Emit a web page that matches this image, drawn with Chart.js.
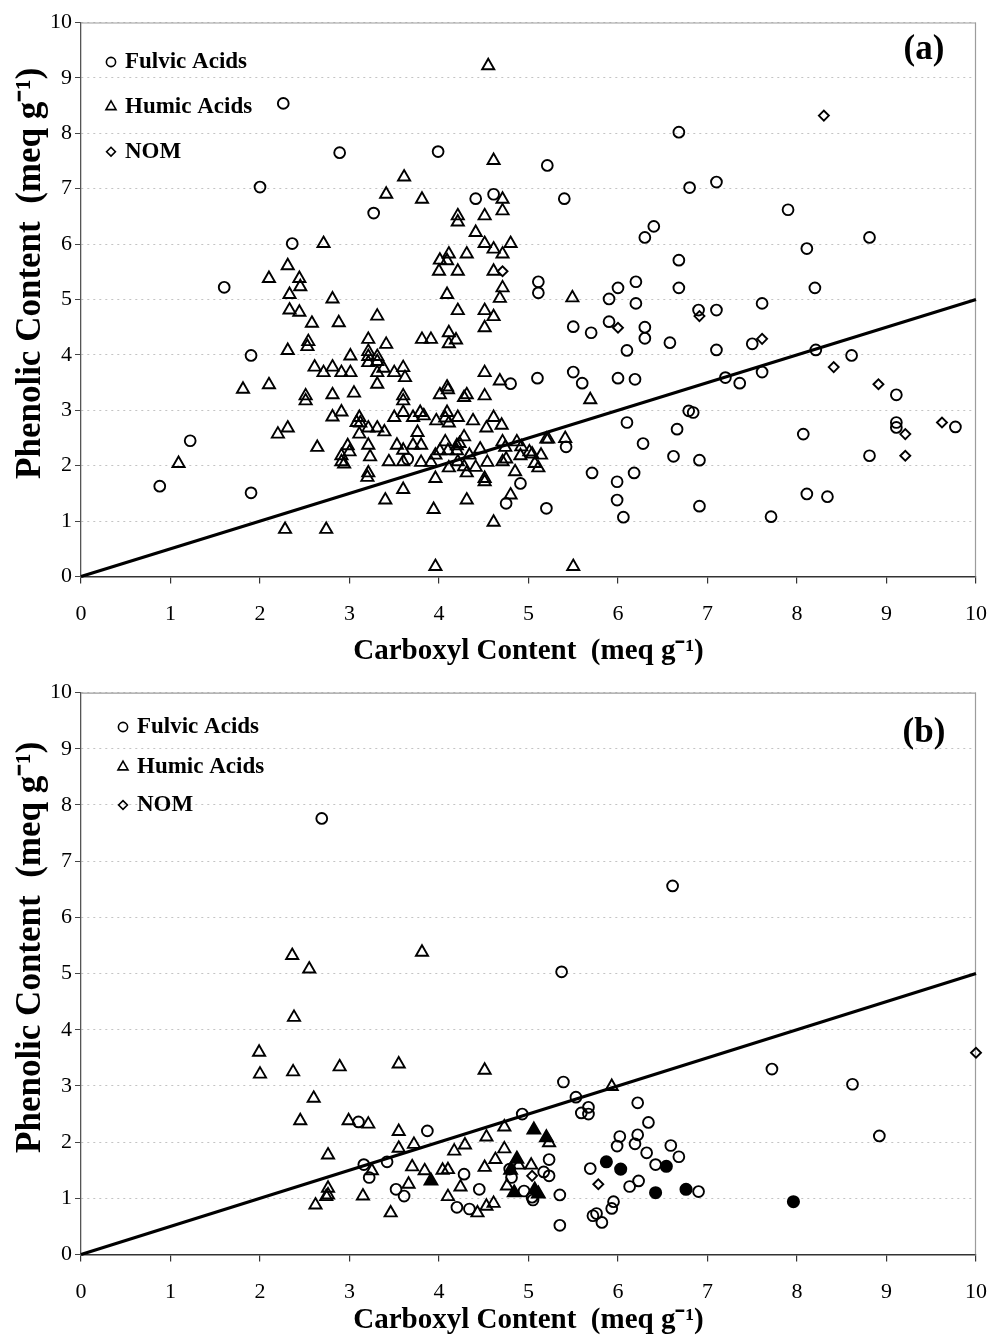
<!DOCTYPE html>
<html><head><meta charset="utf-8">
<script src="https://cdn.jsdelivr.net/npm/chart.js@4/dist/chart.umd.min.js"></script>
<style>
html,body{margin:0;padding:0;background:#fff;}
#wrap{position:relative;width:992px;height:1335px;overflow:hidden;background:#fff;}
canvas{position:absolute;left:0;}
</style></head><body>
<div id="wrap">
<canvas id="chartA" width="992" height="672" style="top:0px"></canvas>
<canvas id="chartB" width="992" height="663" style="top:672px"></canvas>
</div>
<script>
// ---------- axis / labels ----------
const xTickValues = [0,1,2,3,4,5,6,7,8,9,10];
const yTickValues = [0,1,2,3,4,5,6,7,8,9,10];
const seriesNames = ['Fulvic Acids','Humic Acids','NOM'];
const xAxisTitle = 'Carboxyl Content  (meq g\u207B\u00B9)';
const yAxisTitle = '      Phenolic Content  (meq g\u207B\u00B9)';
const panelLabels = ['(a)','(b)'];
// reference line phenolic = carboxyl / 2
const refLineX = [0,10];
const refLineY = [0,5];

// ---------- panel (a) ----------
const aFulvic = [[2.26,8.54],[2.89,7.65],[2.00,7.03],[3.27,6.56],[2.36,6.01],[1.60,5.22],[1.90,3.99],[1.22,2.45],[0.88,1.63],[1.90,1.51],
[3.99,7.67],[4.41,6.82],[4.61,6.90],[5.21,7.42],[5.40,6.82],[6.68,8.02],[6.30,6.12],[6.40,6.32],[6.68,5.71],[6.68,5.21],
[5.11,5.32],[5.11,5.12],[5.90,5.01],[6.00,5.21],[6.20,5.32],[6.20,4.93],
[5.50,4.51],[5.70,4.40],[5.90,4.60],[6.30,4.50],[6.30,4.30],[6.10,4.08],[6.58,4.22],
[4.80,3.48],[5.10,3.58],[5.50,3.69],[5.60,3.49],[6.00,3.58],[6.19,3.56],
[3.65,2.12],[5.42,2.34],[4.91,1.68],[4.75,1.32],[5.20,1.23],
[5.71,1.87],[5.99,1.71],[5.99,1.38],[6.06,1.07],[6.18,1.87],[6.28,2.40],[6.62,2.17],[6.66,2.66],[6.10,2.78],
[6.80,7.02],[7.10,7.12],[7.90,6.62],[8.81,6.12],[8.11,5.92],[8.20,5.21],[7.61,4.93],
[6.90,4.81],[7.10,4.81],[7.10,4.09],[7.50,4.20],[8.21,4.09],[8.61,3.99],[7.20,3.59],[7.36,3.49],[7.61,3.69],[9.11,3.28],
[6.79,2.99],[6.84,2.96],[9.11,2.78],[9.11,2.69],[9.77,2.70],[8.07,2.57],
[6.91,2.10],[8.81,2.18],[6.91,1.27],[8.11,1.49],[8.34,1.44],[7.71,1.08]];

const aHumic = [[3.41,6.90],[2.71,6.01],[2.31,5.61],[2.10,5.38],[2.44,5.38],[2.45,5.23],[2.33,5.09],[2.81,5.01],
[4.55,9.22],[4.61,7.51],[3.61,7.21],[3.81,6.81],[4.71,6.81],[4.71,6.60],[4.21,6.51],[4.21,6.40],[4.51,6.51],[4.41,6.21],[4.51,6.01],[4.61,5.91],[4.80,6.01],[4.71,5.82],[4.31,5.82],[4.11,5.82],[4.01,5.71],[4.09,5.70],[4.00,5.51],[4.21,5.51],[4.61,5.51],[4.71,5.21],[4.68,5.02],[4.09,5.09],[5.49,5.03],
[2.33,4.81],[2.44,4.77],[2.58,4.57],[2.88,4.58],[3.31,4.70],[3.21,4.28],[3.41,4.19],[2.54,4.24],[2.53,4.15],[2.31,4.08],[3.01,3.98],[3.21,4.06],[3.21,3.97],[3.31,3.97],[3.21,3.86],[3.31,3.88],[3.38,3.76],[3.31,3.68],[3.31,3.47],[2.61,3.78],[2.71,3.68],[2.81,3.78],[2.91,3.68],[3.01,3.68],[1.81,3.38],[2.10,3.46],[2.51,3.26],[2.51,3.17],[2.81,3.28],[3.05,3.31],[2.81,2.88],[2.91,2.97],[3.11,2.87],[3.08,2.78],[3.12,2.77],[3.21,2.68],[3.31,2.68],[3.39,2.61],[3.11,2.57],[2.31,2.68],[2.20,2.57],[2.64,2.33],[2.98,2.36],[3.00,2.25],[2.91,2.18],[2.91,2.07],[2.94,2.03],[3.21,2.37],[3.23,2.16],[3.44,2.07],[3.21,1.87],[3.20,1.79],[1.09,2.04],[3.40,1.38],[2.28,0.85],[2.74,0.85],
[4.21,4.80],[4.51,4.80],[4.61,4.69],[4.51,4.49],[4.11,4.40],[3.81,4.28],[3.91,4.28],[4.19,4.27],[4.11,4.20],
[3.50,3.68],[3.60,3.77],[3.62,3.59],[4.51,3.68],[4.68,3.53],[5.69,3.19],
[3.60,3.26],[3.60,3.17],[4.01,3.28],[4.09,3.42],[4.10,3.37],[4.28,3.23],[4.31,3.28],[4.51,3.26],
[3.50,2.87],[3.60,2.96],[3.71,2.87],[3.79,2.96],[3.83,2.90],[3.97,2.81],[4.09,2.96],[4.07,2.86],[4.11,2.77],[4.21,2.87],[4.38,2.81],[4.61,2.87],[4.53,2.68],[4.70,2.73],[3.76,2.60],
[3.53,2.37],[3.60,2.28],[3.71,2.37],[3.80,2.37],[3.60,2.07],[3.80,2.06],[3.91,2.06],[3.96,2.19],[4.01,2.27],[4.07,2.43],[4.10,2.27],[4.20,2.36],[4.20,2.27],[4.23,2.40],[4.28,2.52],[4.34,2.19],[4.21,2.07],[4.11,1.96],[4.28,1.98],[4.31,1.87],[4.41,1.97],[4.46,2.30],[4.54,2.06],[4.51,1.77],[4.51,1.71],
[4.71,2.43],[4.74,2.33],[4.87,2.43],[4.92,2.34],[4.71,2.07],[4.75,2.12],[4.91,2.18],[5.01,2.25],[5.04,2.21],[5.07,2.04],[5.14,2.19],[5.11,1.96],[5.20,2.48],[5.22,2.48],[5.41,2.49],[4.85,1.89],[3.96,1.77],[3.60,1.57],[4.31,1.38],[3.94,1.21],[4.80,1.47],[4.61,0.98],[3.96,0.18],[5.50,0.18]];

const aNOM = [[8.30,8.32],[6.00,4.49],[4.71,5.51],[6.91,4.70],[7.61,4.29],[8.41,3.78],[8.91,3.47],[9.21,2.57],[9.62,2.78],[9.21,2.18]];

// ---------- panel (b) ----------
const bFulvic = [[2.69,7.76],[6.61,6.56],[5.37,5.03],[5.39,3.07],[7.72,3.30],[8.62,3.03],[8.92,2.11],
[3.10,2.36],[3.16,1.60],[3.22,1.37],[3.42,1.65],[3.52,1.16],[3.61,1.04],[3.87,2.20],
[4.28,1.43],[4.20,0.84],[4.34,0.81],[4.45,1.16],[4.93,2.50],[4.79,1.52],[4.81,1.37],[4.95,1.13],[5.04,1.02],[5.05,0.97],[5.17,1.47],[5.23,1.40],[5.23,1.69],[5.35,1.06],[5.35,0.52],
[5.53,2.80],[5.59,2.52],[5.67,2.62],[5.67,2.50],[5.69,1.53],[5.72,0.69],[5.76,0.73],[5.82,0.57],[5.93,0.82],[5.95,0.94],
[5.99,1.93],[6.02,2.10],[6.19,1.97],[6.22,2.13],[6.22,2.70],[6.32,1.81],[6.34,2.35],[6.42,1.60],[6.59,1.94],[6.68,1.74],[6.13,1.21],[6.23,1.31],[6.90,1.12]];
const bFulvicFilled = [[5.87,1.65],[6.03,1.52],[6.54,1.57],[6.42,1.10],[6.76,1.16],[7.96,0.94]];
const bHumic = [[2.36,5.32],[2.55,5.08],[2.38,4.22],[1.99,3.60],[2.00,3.21],[2.37,3.25],[2.89,3.34],[2.60,2.78],[2.45,2.38],[2.99,2.38],[3.21,2.32],[2.76,1.77],[3.25,1.49],[2.76,1.18],[2.74,1.03],[2.76,1.06],[3.15,1.04],[2.62,0.88],[3.46,0.74],
[3.81,5.38],[3.55,3.39],[4.51,3.28],[5.93,2.99],
[3.55,2.19],[3.55,1.89],[3.72,1.96],[3.70,1.56],[3.66,1.25],[3.84,1.49],[4.04,1.50],[4.10,1.51],[4.17,1.84],[4.29,1.95],[4.24,1.20],[4.10,1.03],[4.43,0.74],[4.53,0.86],[4.61,0.91],[4.53,2.09],[4.51,1.55],[4.63,1.69],[4.73,2.27],[4.73,1.88],[4.76,1.22],[4.89,1.59],[5.03,1.59],[5.23,1.99]];
const bHumicFilled = [[3.91,1.31],[4.80,1.50],[4.87,1.70],[4.84,1.10],[5.07,1.15],[5.11,1.08],[5.06,2.22],[5.20,2.08]];
const bNOM = [[5.04,1.40],[5.78,1.25],[10.0,3.59]];

// ---------- helpers ----------
const SERIF = '"Liberation Serif", "Times New Roman", serif';
function pts(arr){ return arr.map(p => ({x:p[0], y:p[1]})); }
function markerSet(label, arr, style, radius, filled, inLegend){
  return {
    label: label, data: pts(arr), inLegend: inLegend,
    pointStyle: style, pointRadius: radius, pointHoverRadius: radius,
    pointBorderColor: '#000', pointBorderWidth: 1.9,
    pointBackgroundColor: filled ? '#000' : 'rgba(0,0,0,0)',
    borderColor: '#000', backgroundColor: filled ? '#000' : 'rgba(0,0,0,0)',
    showLine: false, clip: false
  };
}
function refLineSet(){
  return {
    label: 'ref', data: refLineX.map((x,i) => ({x:x, y:refLineY[i]})),
    showLine: true, borderColor: '#000', borderWidth: 3.2, pointRadius: 0,
    pointHoverRadius: 0, fill: false, clip: false
  };
}
function drawMarker(ctx, style, x, y, r){
  ctx.beginPath();
  if (style === 'circle') ctx.arc(x, y, r, 0, Math.PI*2);
  else if (style === 'triangle'){
    ctx.moveTo(x, y - r); ctx.lineTo(x + r*0.866, y + r*0.5); ctx.lineTo(x - r*0.866, y + r*0.5); ctx.closePath();
  } else {
    ctx.moveTo(x, y - r); ctx.lineTo(x + r, y); ctx.lineTo(x, y + r); ctx.lineTo(x - r, y); ctx.closePath();
  }
  ctx.stroke();
}

const framePlugin = {
  id: 'frame',
  beforeDatasetsDraw(chart){
    const {ctx, chartArea: a} = chart;
    ctx.save();
    ctx.strokeStyle = '#9c9c9c'; ctx.lineWidth = 1.2;
    ctx.beginPath();
    ctx.moveTo(a.left, a.top + 0.5); ctx.lineTo(a.right - 0.5, a.top + 0.5); ctx.lineTo(a.right - 0.5, a.bottom);
    ctx.stroke();
    ctx.restore();
  },
  afterDraw(chart, args, opts){
    const {ctx, chartArea: a} = chart;
    ctx.save();
    ctx.fillStyle = '#000'; ctx.strokeStyle = '#000'; ctx.lineWidth = 1.6;
    ctx.textBaseline = 'middle'; ctx.textAlign = 'left';
    ctx.font = 'bold 23px ' + SERIF;
    const sizes = {circle: 4.6, triangle: 5.8, rectRot: 4.4};
    const legendSets = chart.data.datasets.filter(d => d.inLegend);
    legendSets.forEach((d, i) => {
      const y = a.top + opts.legendY[i];
      drawMarker(ctx, d.pointStyle, a.left + opts.markerX, y, sizes[d.pointStyle]);
      ctx.fillText(d.label, a.left + opts.textX, y);
    });
    ctx.font = 'bold 35px ' + SERIF;
    ctx.textAlign = 'center';
    ctx.fillText(opts.panel, a.right - opts.panelDX, a.top + opts.panelDY);
    ctx.restore();
  }
};

function makeChart(id, datasets, geo, frameOpts){
  const chart = new Chart(document.getElementById(id), {
    type: 'scatter',
    data: { datasets: datasets },
    plugins: [framePlugin],
    options: {
      responsive: false, animation: false, events: [],
      layout: { autoPadding: false, padding: { left: 0, right: geo.right, top: geo.top, bottom: 0 } },
      plugins: { legend: { display: false }, tooltip: { enabled: false }, frame: frameOpts },
      scales: {
        x: {
          type: 'linear', min: 0, max: 10,
          afterBuildTicks(s){ s.ticks = xTickValues.map(v => ({value: v})); },
          afterFit(s){ s.height = geo.xAxisH; s.paddingLeft = 0; s.paddingRight = 0; },
          grid: { drawOnChartArea: false, drawTicks: true, tickLength: 7, tickColor: '#333', lineWidth: 1.2 },
          border: { display: true, color: '#333', width: 1.6 },
          ticks: { color: '#000', padding: 18, font: { family: SERIF, size: 22 }, maxRotation: 0, autoSkip: false },
          title: { display: true, text: xAxisTitle, color: '#000',
                   font: { family: SERIF, size: 29, weight: 'bold', lineHeight: 1.0 },
                   padding: { top: 0, bottom: geo.titlePad } }
        },
        y: {
          type: 'linear', min: 0, max: 10,
          afterBuildTicks(s){ s.ticks = yTickValues.map(v => ({value: v})); },
          afterFit(s){ s.width = 81; s.paddingTop = 0; s.paddingBottom = 0; },
          grid: { drawOnChartArea: true, drawTicks: true, tickLength: 6, color: '#c4c4c4', tickColor: '#444', lineWidth: 1, tickBorderDash: [] },
          border: { display: true, color: '#555', width: 1.3, dash: [2, 4] },
          ticks: { color: '#000', padding: 3, font: { family: SERIF, size: 22 }, autoSkip: false },
          title: { display: true, text: yAxisTitle, color: '#000',
                   font: { family: SERIF, size: 35, weight: 'bold', lineHeight: 1.0 },
                   padding: { top: 13, bottom: 0 } }
        }
      }
    }
  });
  // nudge the layout so the plot area lands where the reference has it
  const dr = chart.chartArea.right - geo.targetRight;
  const dt = chart.chartArea.top - geo.top;
  if (Math.abs(dr) > 0.5 || Math.abs(dt) > 0.5) {
    chart.options.layout.padding.right = Math.max(0, geo.right + dr);
    chart.options.layout.padding.top = geo.top - dt;
    chart.update();
  }
  return chart;
}

makeChart('chartA', [
  refLineSet(),
  markerSet(seriesNames[0], aFulvic, 'circle', 5.4, false, true),
  markerSet(seriesNames[1], aHumic, 'triangle', 7, false, true),
  markerSet(seriesNames[2], aNOM, 'rectRot', 5, false, true)
], { top: 22.5, right: 16, targetRight: 976, xAxisH: 95.5, titlePad: 6 },
   { panel: panelLabels[0], panelDX: 52, panelDY: 27, markerX: 30, textX: 44, legendY: [39.5, 84.2, 129.2] });

makeChart('chartB', [
  refLineSet(),
  markerSet(seriesNames[0], bFulvic, 'circle', 5.4, false, true),
  markerSet(seriesNames[1], bHumic, 'triangle', 7, false, true),
  markerSet(seriesNames[2], bNOM, 'rectRot', 5, false, true),
  markerSet('Fulvic Acids (filled)', bFulvicFilled, 'circle', 5.6, true, false),
  markerSet('Humic Acids (filled)', bHumicFilled, 'triangle', 7.4, true, false)
], { top: 20.6, right: 16, targetRight: 976, xAxisH: 80.5, titlePad: 0 },
   { panel: panelLabels[1], panelDX: 52, panelDY: 40.4, markerX: 42, textX: 56, legendY: [34.4, 74.4, 112.4] });
</script></body></html>
